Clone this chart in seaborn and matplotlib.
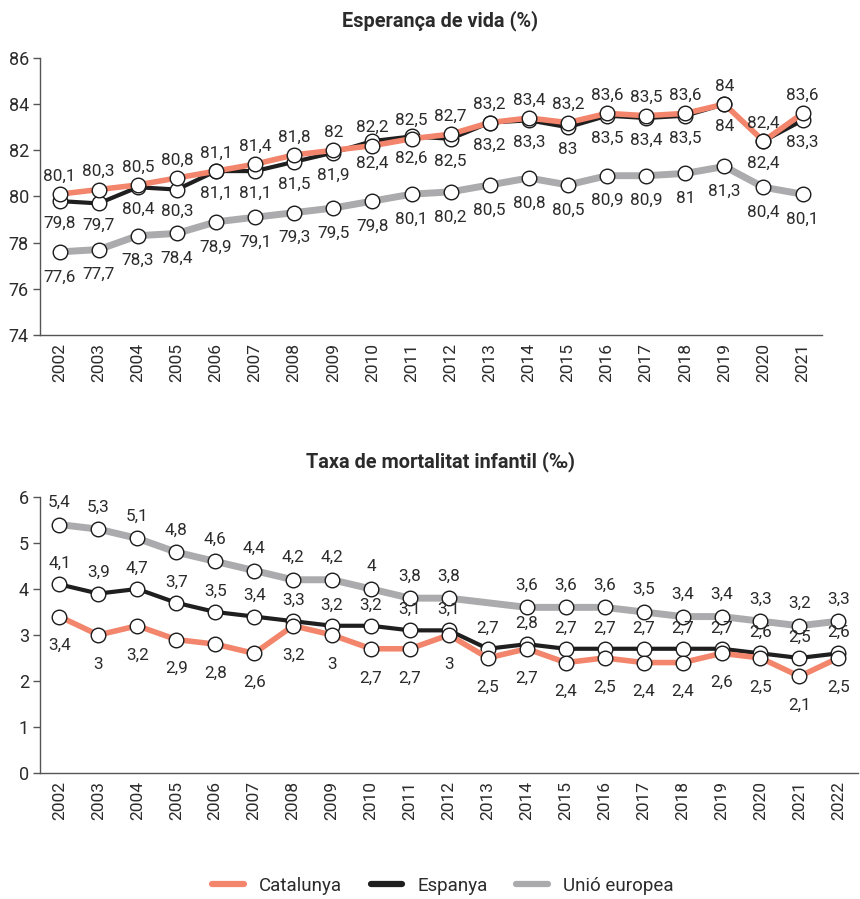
import numpy as np
import pandas as pd
import matplotlib
matplotlib.use("Agg")
import matplotlib.pyplot as plt
from matplotlib.lines import Line2D
import seaborn as sns

# ---------------- data ----------------
years_le = list(range(2002, 2022))
cat_le = [80.1, 80.3, 80.5, 80.8, 81.1, 81.4, 81.8, 82.0, 82.2, 82.5, 82.7, 83.2, 83.4, 83.2, 83.6, 83.5, 83.6, 84.0, 82.4, 83.6]
esp_le = [79.8, 79.7, 80.4, 80.3, 81.1, 81.1, 81.5, 81.9, 82.4, 82.6, 82.5, 83.2, 83.3, 83.0, 83.5, 83.4, 83.5, 84.0, 82.4, 83.3]
ue_le = [77.6, 77.7, 78.3, 78.4, 78.9, 79.1, 79.3, 79.5, 79.8, 80.1, 80.2, 80.5, 80.8, 80.5, 80.9, 80.9, 81.0, 81.3, 80.4, 80.1]

years_im = list(range(2002, 2023))
cat_im = [3.4, 3.0, 3.2, 2.9, 2.8, 2.6, 3.2, 3.0, 2.7, 2.7, 3.0, 2.5, 2.7, 2.4, 2.5, 2.4, 2.4, 2.6, 2.5, 2.1, 2.5]
esp_im = [4.1, 3.9, 4.0, 3.7, 3.5, 3.4, 3.3, 3.2, 3.2, 3.1, 3.1, 2.7, 2.8, 2.7, 2.7, 2.7, 2.7, 2.7, 2.6, 2.5, 2.6]
esp_im_labels = ["4,1", "3,9", "4,7", "3,7", "3,5", "3,4", "3,3", "3,2", "3,2", "3,1", "3,1", "2,7", "2,8", "2,7",
                 "2,7", "2,7", "2,7", "2,7", "2,6", "2,5", "2,6"]
ue_im = [5.4, 5.3, 5.1, 4.8, 4.6, 4.4, 4.2, 4.2, 4.0, 3.8, 3.8, np.nan, 3.6, 3.6, 3.6, 3.5, 3.4, 3.4, 3.3, 3.2, 3.3]

series_names = ["Catalunya", "Espanya", "Unió europea"]
colors = {"Catalunya": "#f2856b", "Espanya": "#1f1f1f", "Unió europea": "#ababad"}
widths = {"Catalunya": 4.0, "Espanya": 3.0, "Unió europea": 5.0}

title_le = "Esperança de vida (%)"
title_im = "Taxa de mortalitat infantil (‰)"

# ---------------- style ----------------
sns.set_theme(style="white")
plt.rcParams["font.family"] = ["Roboto", "DejaVu Sans"]
TXT = "#2b2b2b"


def fmt(v):
    s = f"{v:.1f}"
    if s.endswith(".0"):
        s = s[:-2]
    return s.replace(".", ",")


def draw_panel(ax, years, series, label_offsets, ylim, yticks):
    n = len(years)
    pos = np.arange(n)
    order = ["Unió europea", "Espanya", "Catalunya"]
    for name in order:
        vals, labels = series[name]
        df = pd.DataFrame({"pos": pos, "value": vals, "label": labels}).dropna()
        sns.lineplot(data=df, x="pos", y="value", ax=ax, color=colors[name],
                     linewidth=widths[name], marker="o", markersize=10.5,
                     markerfacecolor="white", markeredgecolor="#1a1a1a",
                     markeredgewidth=1.0, solid_capstyle="round", solid_joinstyle="round",
                     legend=False)
        off = label_offsets[name]
        for p, v, lab in zip(df["pos"], df["value"], df["label"]):
            ax.annotate(lab, (p, v), xytext=(0, off), textcoords="offset points",
                        ha="center", va="center", fontsize=12.3, color=TXT)
    ax.set_xlim(-0.5, n - 0.5)
    ax.set_ylim(*ylim)
    ax.set_yticks(yticks)
    ax.set_yticklabels([str(t) for t in yticks], fontsize=13, color=TXT)
    ax.set_xticks(pos)
    ax.set_xticklabels([str(y) for y in years], rotation=90, fontsize=12.5, color=TXT)
    ax.set_xticks(np.arange(n) + 0.5, minor=True)
    ax.tick_params(axis="x", which="major", length=0, pad=6)
    ax.tick_params(axis="x", which="minor", length=5, width=1, color="#555555", direction="out")
    ax.tick_params(axis="y", length=5, width=1, color="#555555", direction="out", pad=3, left=True)
    ax.set_xlabel("")
    ax.set_ylabel("")
    for s in ["top", "right"]:
        ax.spines[s].set_visible(False)
    for s in ["left", "bottom"]:
        ax.spines[s].set_color("#555555")
        ax.spines[s].set_linewidth(1.0)


fig = plt.figure(figsize=(8.6, 8.99), dpi=100)

ax1 = fig.add_axes([0.0465, 0.6274, 0.9095, 0.3081])
lab_le = {
    "Catalunya": (cat_le, [fmt(v) for v in cat_le]),
    "Espanya": (esp_le, [fmt(v) for v in esp_le]),
    "Unió europea": (ue_le, [fmt(v) for v in ue_le]),
}
draw_panel(ax1, years_le, lab_le,
           {"Catalunya": 13, "Espanya": -16, "Unió europea": -18},
           (74, 86), [74, 76, 78, 80, 82, 84, 86])

ax2 = fig.add_axes([0.0465, 0.1402, 0.951, 0.3070])
lab_im = {
    "Catalunya": (cat_im, [fmt(v) for v in cat_im]),
    "Espanya": (esp_im, esp_im_labels),
    "Unió europea": (ue_im, [fmt(v) if not np.isnan(v) else "" for v in ue_im]),
}
draw_panel(ax2, years_im, lab_im,
           {"Catalunya": -21, "Espanya": 15, "Unió europea": 16},
           (0, 6), [0, 1, 2, 3, 4, 5, 6])

fig.text(0.512, 0.977, title_le, ha="center", va="center", fontsize=14.3,
         fontweight="bold", color=TXT)
fig.text(0.512, 0.486, title_im, ha="center", va="center", fontsize=14.3,
         fontweight="bold", color=TXT)

handles = [Line2D([0], [0], color=colors[n], linewidth=4.5, solid_capstyle="round") for n in series_names]
fig.legend(handles, series_names, loc="center", bbox_to_anchor=(0.515, 0.0145), ncol=3,
           frameon=False, fontsize=13.5, handlelength=1.7, columnspacing=1.5,
           handletextpad=0.8, labelcolor=TXT)

fig.savefig("out.png", dpi=100)
